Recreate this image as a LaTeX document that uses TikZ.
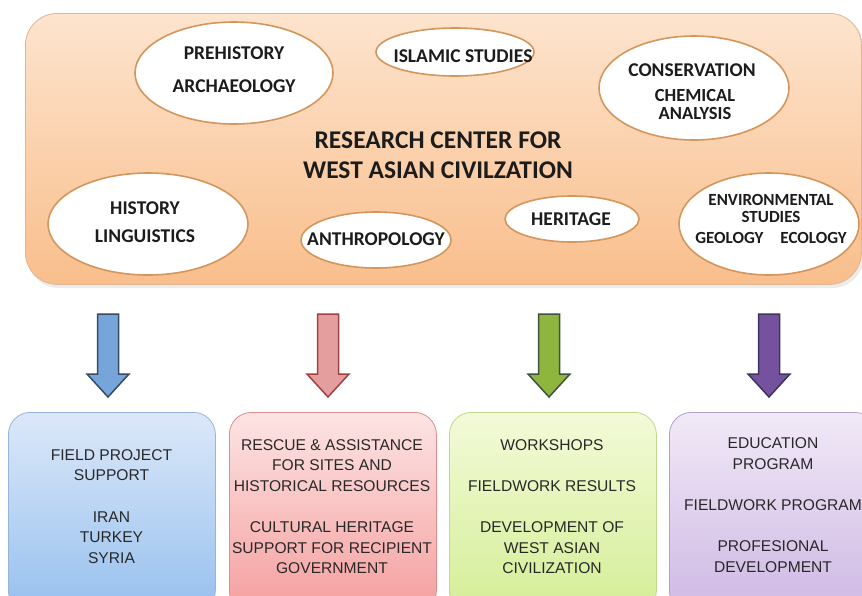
\documentclass[tikz,border=0pt]{standalone}
\usepackage{fontspec}
\setmainfont{Liberation Sans}
\newfontfamily\calfont{Carlito}
\usetikzlibrary{shapes.geometric}
\definecolor{orTop}{RGB}{253,228,206}
\definecolor{orBot}{RGB}{249,190,140}
\definecolor{orEdge}{RGB}{222,182,148}
\definecolor{ellEdge}{RGB}{212,150,92}
\definecolor{txtDark}{RGB}{28,28,28}
\definecolor{boxTxt}{RGB}{40,40,40}
\definecolor{bTop}{RGB}{220,232,249}
\definecolor{bBot}{RGB}{150,192,238}
\definecolor{bEdge}{RGB}{150,180,220}
\definecolor{rTop}{RGB}{253,228,228}
\definecolor{rBot}{RGB}{245,158,158}
\definecolor{rEdge}{RGB}{222,140,140}
\definecolor{gTop}{RGB}{243,250,216}
\definecolor{gBot}{RGB}{212,238,150}
\definecolor{gEdge}{RGB}{192,216,140}
\definecolor{pTop}{RGB}{241,233,247}
\definecolor{pBot}{RGB}{206,184,228}
\definecolor{pEdge}{RGB}{180,160,205}
\definecolor{aBlueF}{RGB}{118,165,218}
\definecolor{aBlueD}{RGB}{55,75,105}
\definecolor{aRedF}{RGB}{228,158,158}
\definecolor{aRedD}{RGB}{160,65,70}
\definecolor{aGreenF}{RGB}{142,182,62}
\definecolor{aGreenD}{RGB}{62,82,62}
\definecolor{aPurF}{RGB}{118,82,158}
\definecolor{aPurD}{RGB}{62,52,98}
\newcommand\blockarrow[3]{%
  \draw[line width=1.5pt,draw=#2,fill=#3,line join=miter]
    (#1-10.5,314) -- (#1+10.5,314) -- (#1+10.5,374) -- (#1+21,374)
    -- (#1,397) -- (#1-21,374) -- (#1-10.5,374) -- cycle;}
\begin{document}
\begin{tikzpicture}[x=1pt,y=-1pt,
  ell/.style={ellipse,draw=ellEdge,line width=1.6pt,fill=white,inner sep=0pt},
  etxt/.style={align=center,inner sep=0pt,text=txtDark,font=\calfont\bfseries\fontsize{19.5}{24}\selectfont},
  box/.style={rectangle,rounded corners=22pt,line width=0.8pt,minimum width=207pt,minimum height=200pt,anchor=north west},
  btxt/.style={align=center,inner sep=0pt,text=boxTxt,font=\fontsize{15.6}{20.6}\selectfont}]
\useasboundingbox (0,0) rectangle (862,595);
\fill[white] (0,0) rectangle (862,595);
% main panel
\fill[black,opacity=0.08,rounded corners=32pt] (27,16) rectangle (864,288);
\node[rectangle,rounded corners=32pt,draw=orEdge,line width=0.8pt,top color=orTop,bottom color=orBot,
  minimum width=836pt,minimum height=271pt,anchor=north west] (panel) at (25,13) {};
\node[etxt,font=\calfont\bfseries\fontsize{25.5}{30}\selectfont] (title) at (438,155)
  {RESEARCH CENTER FOR\\WEST ASIAN CIVILZATION};
% ellipses
\node[ell,minimum width=198pt,minimum height=102pt] (e1) at (234,73) {};
\node[ell,minimum width=158pt,minimum height=48pt] (e2) at (455,52) {};
\node[ell,minimum width=190pt,minimum height=104pt] (e3) at (694,88) {};
\node[ell,minimum width=200pt,minimum height=102pt] (e4) at (148,224) {};
\node[ell,minimum width=150pt,minimum height=56pt] (e5) at (376,240) {};
\node[ell,minimum width=134pt,minimum height=46pt] (e6) at (572,219) {};
\node[ell,minimum width=180pt,minimum height=102pt] (e7) at (769,224) {};
\node[etxt,font=\calfont\bfseries\fontsize{19.5}{33}\selectfont] (t1) at (234,69.5) {PREHISTORY\\ARCHAEOLOGY};
\node[etxt] (t2) at (463,56) {ISLAMIC STUDIES};
\node[etxt] (t3a) at (692,70) {CONSERVATION};
\node[etxt,font=\calfont\bfseries\fontsize{18.5}{18}\selectfont] (t3b) at (695,104) {CHEMICAL\\ANALYSIS};
\node[etxt,font=\calfont\bfseries\fontsize{19.5}{28}\selectfont] (t4) at (145,222) {HISTORY\\LINGUISTICS};
\node[etxt] (t5) at (376,239) {ANTHROPOLOGY};
\node[etxt] (t6) at (571,219) {HERITAGE};
\node[etxt,font=\calfont\bfseries\fontsize{17}{17}\selectfont] (t7) at (771,219) {ENVIRONMENTAL\\STUDIES\\[4pt]GEOLOGY\hspace{1em}ECOLOGY};
% arrows
\blockarrow{108}{aBlueD}{aBlueF}
\blockarrow{328}{aRedD}{aRedF}
\blockarrow{549}{aGreenD}{aGreenF}
\blockarrow{769}{aPurD}{aPurF}
% boxes
\node[box,draw=bEdge,top color=bTop,bottom color=bBot] (b1) at (8,412) {};
\node[box,draw=rEdge,top color=rTop,bottom color=rBot] (b2) at (229,412) {};
\node[box,draw=gEdge,top color=gTop,bottom color=gBot] (b3) at (449,412) {};
\node[box,draw=pEdge,top color=pTop,bottom color=pBot] (b4) at (669,412) {};
\node[btxt] (s1) at (111.5,506.5) {FIELD PROJECT\\SUPPORT\\[20.6pt]IRAN\\TURKEY\\SYRIA};
\node[btxt] (s2) at (332,506.5) {RESCUE \& ASSISTANCE\\FOR SITES AND\\HISTORICAL RESOURCES\\[20.6pt]CULTURAL HERITAGE\\SUPPORT FOR RECIPIENT\\GOVERNMENT};
\node[btxt] (s3) at (552,506.5) {WORKSHOPS\\[20.6pt]FIELDWORK RESULTS\\[20.6pt]DEVELOPMENT OF\\WEST ASIAN\\CIVILIZATION};
\node[btxt] (s4) at (773,505) {EDUCATION\\PROGRAM\\[20.6pt]FIELDWORK PROGRAM\\[20.6pt]PROFESIONAL\\DEVELOPMENT};
\end{tikzpicture}
\end{document}
